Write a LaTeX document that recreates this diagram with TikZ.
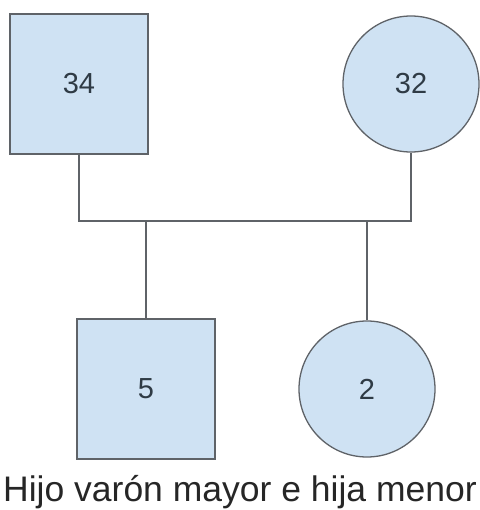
\documentclass[tikz,border=0pt]{standalone}
\usepackage{fontspec}
\setmainfont{Liberation Sans}
\usetikzlibrary{positioning}
\definecolor{fillblue}{HTML}{CFE2F3}
\definecolor{linegray}{HTML}{5F6368}
\definecolor{txtgray}{HTML}{2F3B45}
\tikzset{
    male/.style = {rectangle, draw=linegray, line width=1.3pt, fill=fillblue, minimum width=138pt, minimum height=140pt, font=\fontsize{29}{34}\selectfont, text=txtgray},
    female/.style = {circle, draw=linegray, line width=1.3pt, fill=fillblue, minimum size=136pt, font=\fontsize{29}{34}\selectfont, text=txtgray},
    link/.style = {draw=linegray, line width=1.3pt},
    caption/.style = {font=\fontsize{35.5}{40}\selectfont, text=black!85}
}
\begin{document}
\begin{tikzpicture}[x=1pt,y=-1pt]
\useasboundingbox (0,0) rectangle (479,510);
%
\node[male] at (79,84) (padre) {34};
\node[female] at (411,84) (madre) {32};
\node[male] at (146,389) (hijo) {5};
\node[female] at (367,389) (hija) {2};
\coordinate (barra) at (0,221);
\node[caption] at (240,492.5) (texto) {Hijo varón mayor e hija menor};
%
\draw[link] (padre.south) -- (padre.south |- barra) -- (madre.south |- barra) -- (madre.south);
\draw[link] (hijo.north) -- (hijo.north |- barra);
\draw[link] (hija.north) -- (hija.north |- barra);
\end{tikzpicture}
\end{document}
